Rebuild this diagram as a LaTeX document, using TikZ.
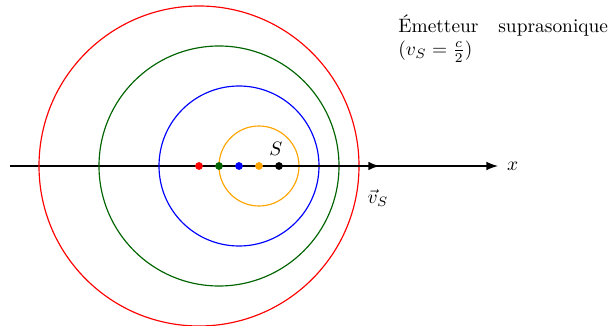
\documentclass[tikz,border=0pt]{standalone}
\usetikzlibrary{arrows.meta}
\definecolor{dgreen}{RGB}{0,100,0}
\definecolor{sorange}{RGB}{255,165,0}
\begin{document}
\begin{tikzpicture}[x=0.515pt,y=-0.515pt,
  wave/.style={line width=0.6pt},
  dot/.style={circle,fill=#1,inner sep=0pt,minimum size=4pt}]
\useasboundingbox (0,0) rectangle (615,326);
% axis
\coordinate (ax0) at (10,166);
\coordinate (ax1) at (498,166);
\draw[line width=0.7pt,-{Latex[length=6pt,width=4.5pt]}] (ax0) -- (ax1) node[right=1pt] (xl) {$x$};
% circles
\draw[wave,red] (199,166) circle[radius=160];
\draw[wave,dgreen] (219,166) circle[radius=120];
\draw[wave,blue] (239,166) circle[radius=80];
\draw[wave,sorange] (259,166) circle[radius=40];
% emitter positions
\node[dot=red] (p1) at (199,166) {};
\node[dot=dgreen] (p2) at (219,166) {};
\node[dot=blue] (p3) at (239,166) {};
\node[dot=sorange] (p4) at (259,166) {};
\coordinate (vend) at (380,166);
\draw[line width=1.4pt,-{Latex[length=6pt,width=4.5pt]}] (279,166) -- (vend);
\node[dot=black] (S) at (279,166) {};
\node (Sl) at (276,149) {$S$};
\node (vl) at (378,198) {$\vec{v}_S$};
% title
\node[anchor=north west,inner sep=0pt,align=left] (t) at (398,14)
  {\hbox to 108pt{\'Emetteur\hfill suprasonique}\\($v_S=\frac{c}{2}$)};
\end{tikzpicture}
\end{document}
